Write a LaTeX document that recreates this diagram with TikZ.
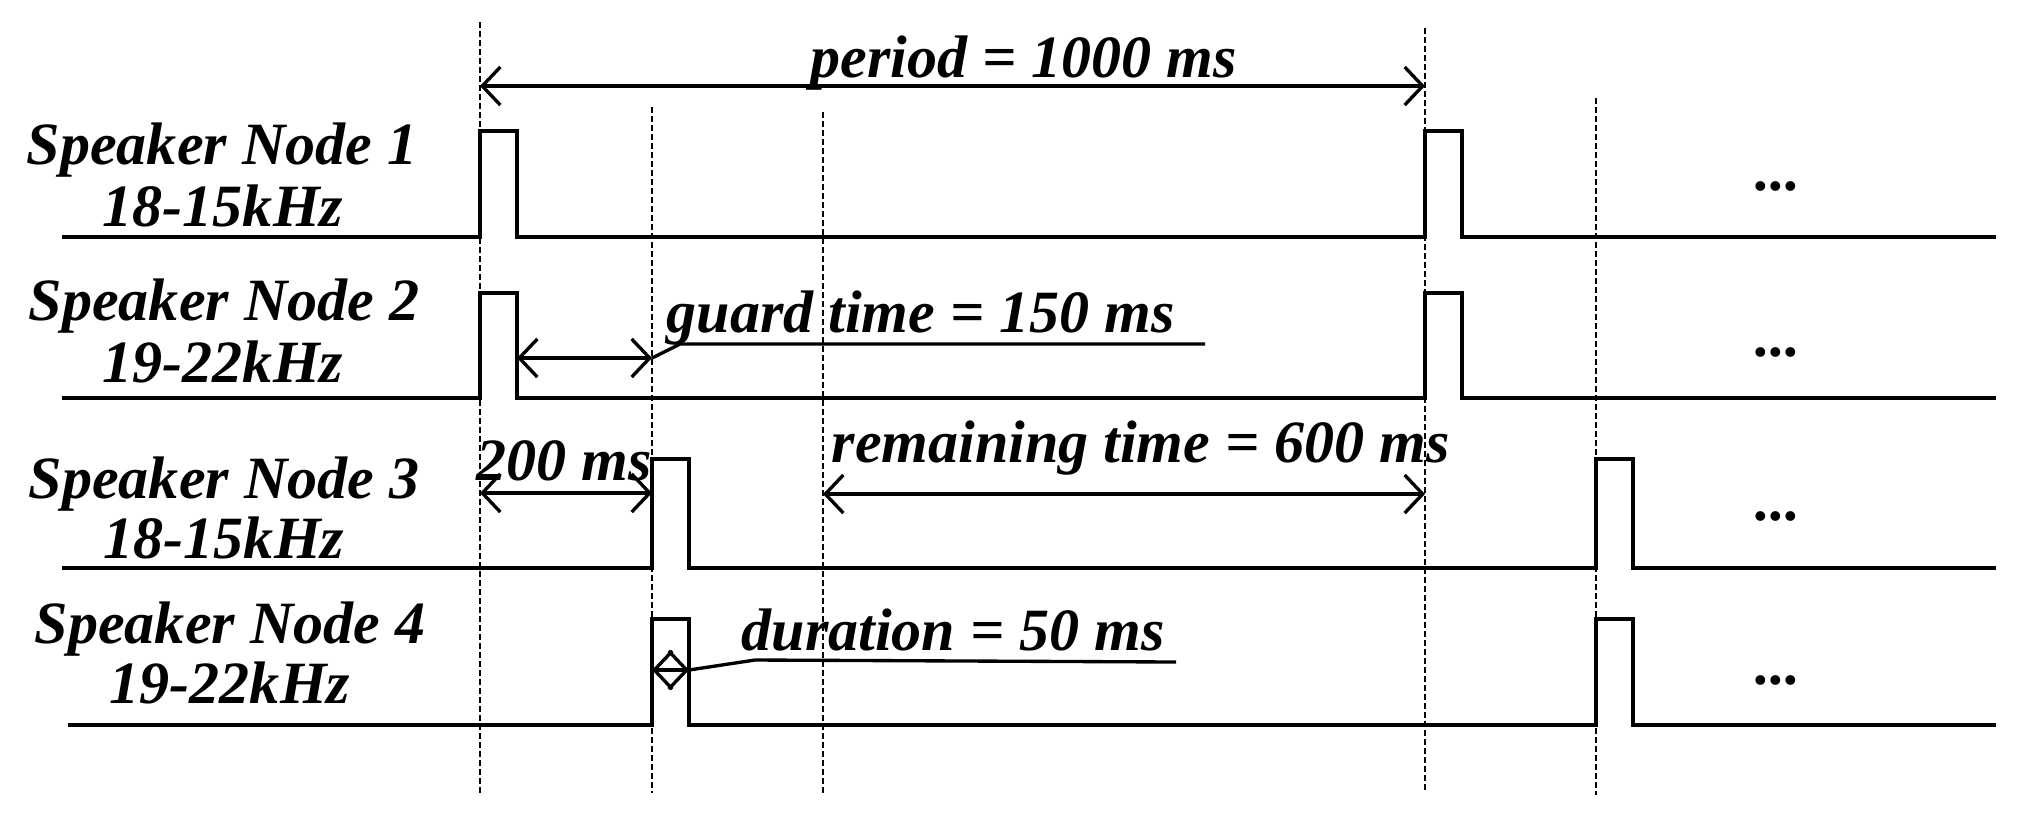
\documentclass[tikz,border=0pt]{standalone}
\usepackage{fontspec}
\setmainfont{Liberation Serif}
\usetikzlibrary{arrows.meta}
\newcommand\lblfont{\fontsize{17.07pt}{20pt}\selectfont\bfseries\itshape}
\begin{document}
\begin{tikzpicture}[x=0.01cm,y=-0.01cm,
  sig/.style={line width=1.1pt, line join=miter},
  guide/.style={line width=0.7pt, dash pattern=on 0.055cm off 0.035cm},
  dimline/.style={line width=0.95pt, {Straight Barb[length=0.18cm,width=0.38cm]}-{Straight Barb[length=0.18cm,width=0.38cm]}},
  lead/.style={line width=0.95pt},
  lbl/.style={font=\lblfont, inner sep=0pt, anchor=base},
  lbll/.style={font=\lblfont, inner sep=0pt, anchor=base west}]
\useasboundingbox (0,0) rectangle (2017,823);
% dashed guide lines
\draw[guide] (480,22) coordinate (g1t) -- (480,793) coordinate (g1b);
\draw[guide] (652,107) coordinate (g2t) -- (652,793) coordinate (g2b);
\draw[guide] (823,112) coordinate (g3t) -- (823,795) coordinate (g3b);
\draw[guide] (1425,28) coordinate (g4t) -- (1425,793) coordinate (g4b);
\draw[guide] (1596,98) coordinate (g5t) -- (1596,795) coordinate (g5b);
% signals
\draw[sig] (62,237) -- (480,237) -- (480,131) -- (517,131) -- (517,237) -- (1425,237) -- (1425,131) -- (1462,131) -- (1462,237) -- (1996,237);
\draw[sig] (62,398) -- (480,398) -- (480,293) -- (517,293) -- (517,398) -- (1425,398) -- (1425,293) -- (1462,293) -- (1462,398) -- (1996,398);
\draw[sig] (62,568) -- (652,568) -- (652,459) -- (689,459) -- (689,568) -- (1596,568) -- (1596,459) -- (1633,459) -- (1633,568) -- (1996,568);
\draw[sig] (68,725) -- (652,725) -- (652,619) -- (689,619) -- (689,725) -- (1596,725) -- (1596,619) -- (1633,619) -- (1633,725) -- (1996,725);
% labels
\node[lbl] (n1a) at (222,164) {Speaker Node 1};
\node[lbl] (n1b) at (223,226) {18-15kHz};
\node[lbl] (n2a) at (224,320) {Speaker Node 2};
\node[lbl] (n2b) at (223,382) {19-22kHz};
\node[lbl] (n3a) at (224,498) {Speaker Node 3};
\node[lbl] (n3b) at (224,558) {18-15kHz};
\node[lbl] (n4a) at (230,643) {Speaker Node 4};
\node[lbl] (n4b) at (230,703) {19-22kHz};
% ellipses
\node[lbl] (e1) at (1778,190) {...};
\node[lbl] (e2) at (1778,356) {...};
\node[lbl] (e3) at (1778,520) {...};
\node[lbl] (e4) at (1778,684) {...};
% period
\coordinate (pa) at (480,86); \coordinate (pb) at (1425,86);
\draw[dimline] (pa) -- (pb);
\node[lbll] (tperiod) at (810,77) {period = 1000 ms};
% guard time
\coordinate (ga) at (517,358); \coordinate (gb) at (652,358);
\draw[dimline] (ga) -- (gb);
\coordinate (gk) at (680,344); \coordinate (ge) at (1205,344);
\draw[lead] (gb) -- (gk) -- (ge);
\node[lbll] (tguard) at (666,332) {guard time = 150 ms};
% 200 ms
\coordinate (ta) at (480,493); \coordinate (tb) at (652,493);
\draw[dimline] (ta) -- (tb);
\node[lbl] (t200) at (564,480) {200 ms};
% remaining
\coordinate (ra) at (823,494); \coordinate (rb) at (1425,494);
\draw[dimline] (ra) -- (rb);
\node[lbll] (trem) at (831,462) {remaining time = 600 ms};
% duration
\coordinate (da) at (652,670); \coordinate (db) at (689,670);
\draw[dimline] (da) -- (db);
\coordinate (dk) at (755,660); \coordinate (de) at (1176,662);
\draw[lead] (db) -- (dk) -- (de);
\node[lbll] (tdur) at (741,650) {duration = 50 ms};
\end{tikzpicture}
\end{document}
